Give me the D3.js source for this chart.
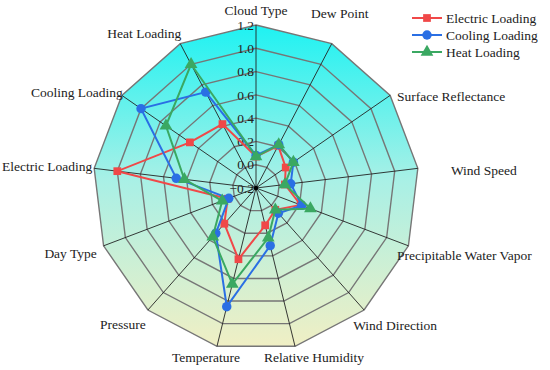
<!DOCTYPE html>
<meta charset="utf-8">
<style>
body { margin: 0; background: #fff; }
svg text { font-family: 'Liberation Serif', serif; font-size: 13.5px; fill: #222; }
.ring { fill: none; stroke: #767676; stroke-width: 1.4px; }
.spoke { stroke: #222; stroke-width: 0.9px; }
.trace { fill: none; stroke-width: 2px; }
</style>
<svg width="550" height="370"></svg>
<script src="https://cdn.jsdelivr.net/npm/d3@7"></script>
<script>

var axesNames = ["Cloud Type", "Dew Point", "Surface Reflectance", "Wind Speed",
  "Precipitable Water Vapor", "Wind Direction", "Relative Humidity", "Temperature",
  "Pressure", "Day Type", "Electric Loading", "Cooling Loading", "Heat Loading"];

var seriesNames = ["Electric Loading", "Cooling Loading", "Heat Loading"];
var electric = [0.07, 0.21, 0.11, 0.05, 0.21, 0.05, 0.13, 0.43, 0.21, 0.06, 1.0, 0.49, 0.42];
var cooling  = [0.08, 0.22, 0.19, 0.10, 0.22, 0.09, 0.31, 0.85, 0.32, 0.05, 0.49, 1.0, 0.73];
var heat     = [0.07, 0.22, 0.19, 0.05, 0.30, 0.05, 0.24, 0.65, 0.36, 0.11, 0.42, 0.74, 1.0];
var ticks = [-0.2, 0, 0.2, 0.4, 0.6, 0.8, 1.0, 1.2];

// label placement relative to the end of each spoke
var labelShift = [[0,-15],[8,-30],[61,1],[66,2],[56,9],[31,15],[19,11],[-11,11],[-25,14],[-33,7],[-47,-2],[-45,-3],[-36,-10]];

var svg = d3.select("svg").style("font-family", "'Liberation Serif', 'Times New Roman', serif");
var cx = 256, cy = 188, R = 163;
var n = axesNames.length;

var r = d3.scaleLinear().domain([-0.2, 1.2]).range([0, R]);
var angle = d3.scaleLinear().domain([0, n]).range([0, 2 * Math.PI]);
var colors = ["#f04848", "#2a6fe4", "#3aa862"];

function pt(i, v) {
  var a = angle(i);
  return [cx + Math.sin(a) * r(v), cy - Math.cos(a) * r(v)];
}

var defs = svg.append("defs");
var grad = defs.append("linearGradient")
    .attr("id", "bg").attr("x1", 0).attr("y1", 0).attr("x2", 0).attr("y2", 1);
grad.append("stop").attr("offset", "0%").attr("stop-color", "#1ef2f2");
grad.append("stop").attr("offset", "48%").attr("stop-color", "#a8f0e6");
grad.append("stop").attr("offset", "100%").attr("stop-color", "#f0efc4");

var line = d3.line().curve(d3.curveLinearClosed);

// background
svg.append("path")
    .attr("d", line(d3.range(n).map(function(i) { return pt(i, 1.2); })))
    .attr("fill", "url(#bg)");

// rings
svg.append("g").selectAll("path")
  .data(ticks.slice(1))
  .enter().append("path")
    .attr("class", "ring")
    .attr("d", function(t) { return line(d3.range(n).map(function(i) { return pt(i, t); })); });

// spokes
svg.append("g").selectAll("line")
  .data(d3.range(n))
  .enter().append("line")
    .attr("class", "spoke")
    .attr("x1", cx).attr("y1", cy)
    .attr("x2", function(i) { return pt(i, 1.2)[0]; })
    .attr("y2", function(i) { return pt(i, 1.2)[1]; });

svg.append("circle").attr("cx", cx).attr("cy", cy).attr("r", 2.2).attr("fill", "#000");

// tick labels
svg.append("g").selectAll("text")
  .data(ticks)
  .enter().append("text")
    .attr("x", cx - 2)
    .attr("y", function(t) { return cy - r(t); })
    .attr("dy", "0.35em")
    .attr("text-anchor", "end")
    .text(function(t) { return d3.format(".1f")(t); });

// axis labels
svg.append("g").selectAll("text")
  .data(axesNames)
  .enter().append("text")
    .attr("x", function(d, i) { return pt(i, 1.2)[0] + labelShift[i][0]; })
    .attr("y", function(d, i) { return pt(i, 1.2)[1] + labelShift[i][1]; })
    .attr("dy", "0.35em")
    .attr("text-anchor", "middle")
    .text(function(d) { return d; });

// series
var symbols = [d3.symbolSquare, d3.symbolCircle, d3.symbolTriangle];
var sizes = [60, 70, 70];
var allSeries = [electric, cooling, heat];

allSeries.forEach(function(vals, s) {
  var g = svg.append("g");
  g.append("path")
      .attr("class", "trace")
      .attr("d", line(vals.map(function(v, i) { return pt(i, v); })))
      .attr("stroke", colors[s]);
  g.selectAll("path.m")
    .data(vals)
    .enter().append("path")
      .attr("class", "m")
      .attr("d", d3.symbol().type(symbols[s]).size(sizes[s]))
      .attr("fill", colors[s])
      .attr("transform", function(v, i) { var p = pt(i, v); return "translate(" + p[0] + "," + p[1] + ")"; });
});

// legend
var legend = svg.append("g").attr("transform", "translate(412,18)");
seriesNames.forEach(function(name, s) {
  var row = legend.append("g").attr("transform", "translate(0," + (s * 17) + ")");
  row.append("line").attr("x1", 0).attr("x2", 30).attr("y1", 0).attr("y2", 0)
      .attr("stroke", colors[s]).attr("stroke-width", 2);
  row.append("path")
      .attr("d", d3.symbol().type(symbols[s]).size(sizes[s]))
      .attr("fill", colors[s])
      .attr("transform", "translate(15,0)");
  row.append("text").attr("x", 34).attr("dy", "0.35em").text(name);
});

</script>
